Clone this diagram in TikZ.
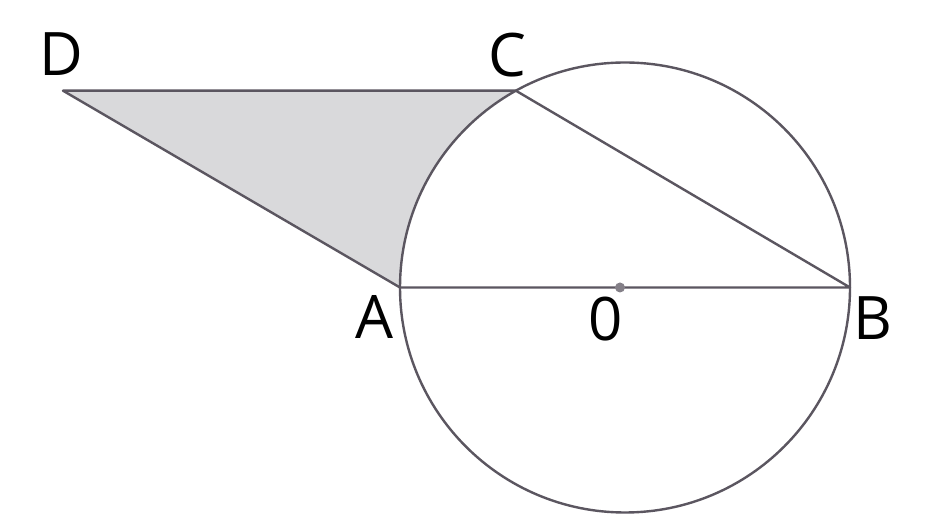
\documentclass[tikz,border=0pt]{standalone}
\usepackage{fontspec}
\setmainfont{Open Sans}
\definecolor{linec}{HTML}{5B5660}
\definecolor{regiongray}{HTML}{D9D9DB}
\tikzset{
  geo/.style={draw=linec, line width=2.4pt},
  lbl/.style={font=\fontsize{60}{60}\selectfont, text=black, inner sep=0pt}
}
\begin{document}
\begin{tikzpicture}[x=1pt,y=1pt]
\useasboundingbox (0,0) rectangle (928,516);
\fill[white] (0,0) rectangle (928,516);
\coordinate (O) at (625,228.5);
\coordinate (A) at (400,228.5);
\coordinate (B) at (850,228.5);
\coordinate (C) at (515.9,425.3);
\coordinate (D) at (63,425.3);
\fill[regiongray] (D) -- (C) arc[start angle=119, end angle=180, radius=225] -- cycle;
\draw[geo] (O) circle[radius=225];
\draw[geo, line join=round] (A) -- (D) -- (C) -- (B) -- (A);
\fill[linec!75] (620,228.5) circle[radius=5];
\node[lbl] (lD) at (61,462) {D};
\node[lbl] (lC) at (507,461) {C};
\node[lbl] (lA) at (374,199) {A};
\node[lbl] (lO) at (606,197) {0};
\node[lbl] (lB) at (873,198) {B};
\end{tikzpicture}
\end{document}
